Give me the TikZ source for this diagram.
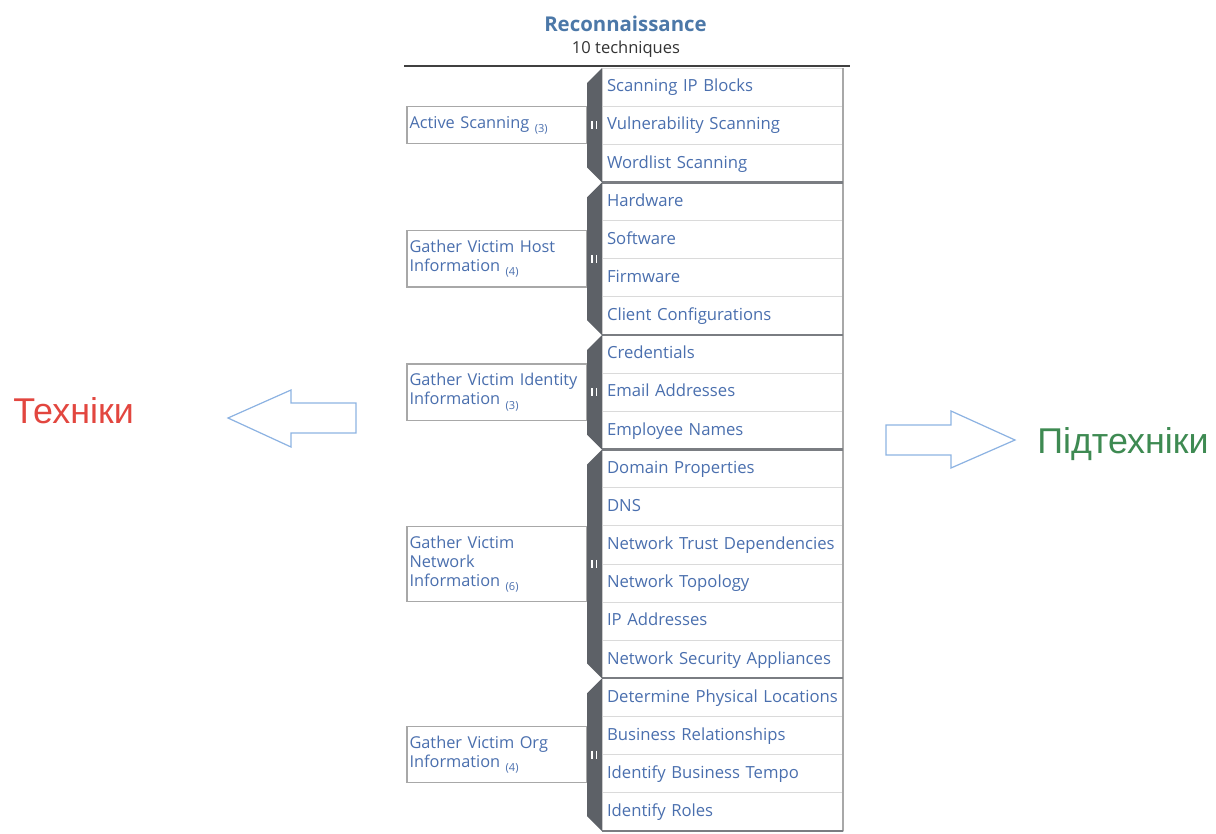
\documentclass[tikz,border=0pt]{standalone}
\usepackage{xcolor}
\usepackage{fontspec}
\setmainfont{Open Sans}
\newfontfamily\slidefont{Liberation Sans}
\usepackage{tikz}
\usetikzlibrary{positioning, calc}

\definecolor{linkblue}{HTML}{4A6FAE}
\definecolor{headblue}{HTML}{4C78A8}
\definecolor{barfill}{HTML}{5D6167}
\definecolor{grpline}{HTML}{7A7D82}
\definecolor{rowline}{HTML}{DADADA}
\definecolor{boxline}{HTML}{A8A8A8}
\definecolor{arrowblue}{HTML}{8DB3E2}
\definecolor{techred}{HTML}{E2463F}
\definecolor{subgreen}{HTML}{3E8A52}

% no hyphenation inside the technique boxes
\hyphenpenalty=10000

% small count after a technique name
\newcommand{\techcount}[1]{\raisebox{-0.5ex}{\fontsize{6.3}{7}\selectfont(#1)}}

\begin{document}
\begin{tikzpicture}[
    node distance=0pt,
    sub/.style={
        rectangle, draw=rowline, line width=0.5pt, outer sep=0pt,
        minimum width=4.82cm, minimum height=0.763cm,
        text width=4.62cm, inner xsep=0.1cm, align=left,
        text height=1.45ex, text depth=0.45ex,
        font=\fontsize{9.5}{10.8}\selectfont, text=linkblue
    },
    tech/.style={
        rectangle, draw=boxline, line width=0.6pt, fill=white, outer sep=0pt,
        text width=3.5cm, inner xsep=0.05cm, inner ysep=0.19cm,
        align=left, anchor=east,
        font=\fontsize{9.3}{10.8}\selectfont, text=linkblue
    },
    bar/.style={fill=barfill},
    grp/.style={grpline, line width=1.2pt},
    grip/.style={white, line width=0.7pt},
    hollow/.style={arrowblue, line width=0.7pt, line join=miter},
    lbl/.style={font=\slidefont\fontsize{20.4}{24}\selectfont, anchor=base west, inner sep=0pt},
]
\useasboundingbox (0,0) rectangle (24.32,-16.68);

% Tactic header
\node[font=\fontsize{11.6}{14}\selectfont\bfseries, text=headblue, anchor=base] (tactic) at (12.51,-0.62) {Reconnaissance};
\node[font=\fontsize{9.4}{11}\selectfont, text=black!80, anchor=base] (count) at (12.52,-1.06) {10 techniques};
\draw[black!75, line width=1pt] (8.08,-1.32) -- (17.0,-1.32);

% Sub-technique column
\node[sub, anchor=north west] (s1) at (12.04,-1.36) {Scanning IP Blocks};
\node[sub, below=of s1] (s2) {Vulnerability Scanning};
\node[sub, below=of s2] (s3) {Wordlist Scanning};
\node[sub, below=of s3] (s4) {Hardware};
\node[sub, below=of s4] (s5) {Software};
\node[sub, below=of s5] (s6) {Firmware};
\node[sub, below=of s6] (s7) {Client Configurations};
\node[sub, below=of s7] (s8) {Credentials};
\node[sub, below=of s8] (s9) {Email Addresses};
\node[sub, below=of s9] (s10) {Employee Names};
\node[sub, below=of s10] (s11) {Domain Properties};
\node[sub, below=of s11] (s12) {DNS};
\node[sub, below=of s12] (s13) {Network Trust Dependencies};
\node[sub, below=of s13] (s14) {Network Topology};
\node[sub, below=of s14] (s15) {IP Addresses};
\node[sub, below=of s15] (s16) {Network Security Appliances};
\node[sub, below=of s16] (s17) {Determine Physical Locations};
\node[sub, below=of s17] (s18) {Business Relationships};
\node[sub, below=of s18] (s19) {Identify Business Tempo};
\node[sub, below=of s19] (s20) {Identify Roles};

% Outer edge and group separators
\draw[boxline, line width=0.8pt] (s1.north east) -- (s20.south east);
\draw[grp] (s3.south west) -- (s3.south east);
\draw[grp] (s7.south west) -- (s7.south east);
\draw[grp] (s10.south west) -- (s10.south east);
\draw[grp] (s16.south west) -- (s16.south east);
\draw[grp] (s20.south west) -- (s20.south east);

% Techniques, centred on their groups
\node[tech] (act) at ($(s1.north west)!0.5!(s3.south west) + (-0.3,0)$) {Active Scanning \techcount{3}};
\node[tech] (host) at ($(s4.north west)!0.5!(s7.south west) + (-0.3,0)$) {Gather Victim Host\\Information \techcount{4}};
\node[tech] (ident) at ($(s8.north west)!0.5!(s10.south west) + (-0.3,0)$) {Gather Victim Identity\\Information \techcount{3}};
\node[tech] (net) at ($(s11.north west)!0.5!(s16.south west) + (-0.3,0)$) {Gather Victim\\Network\\Information \techcount{6}};
\node[tech] (org) at ($(s17.north west)!0.5!(s20.south west) + (-0.3,0)$) {Gather Victim Org\\Information \techcount{4}};

% Dark side bars with chamfered ends
\fill[bar] (s1.north west) -- ++(-0.3,-0.3) -- ($(s3.south west)+(-0.3,0.3)$) -- (s3.south west) -- cycle;
\fill[bar] (s4.north west) -- ++(-0.3,-0.3) -- ($(s7.south west)+(-0.3,0.3)$) -- (s7.south west) -- cycle;
\fill[bar] (s8.north west) -- ++(-0.3,-0.3) -- ($(s10.south west)+(-0.3,0.3)$) -- (s10.south west) -- cycle;
\fill[bar] (s11.north west) -- ++(-0.3,-0.3) -- ($(s16.south west)+(-0.3,0.3)$) -- (s16.south west) -- cycle;
\fill[bar] (s17.north west) -- ++(-0.3,-0.3) -- ($(s20.south west)+(-0.3,0.3)$) -- (s20.south west) -- cycle;

% Grip marks
\draw[grip] ($(act.east)+(0.1,0.08)$) -- ++(0,-0.16) ++(0.09,0.16) -- ++(0,-0.16);
\draw[grip] ($(host.east)+(0.1,0.08)$) -- ++(0,-0.16) ++(0.09,0.16) -- ++(0,-0.16);
\draw[grip] ($(ident.east)+(0.1,0.08)$) -- ++(0,-0.16) ++(0.09,0.16) -- ++(0,-0.16);
\draw[grip] ($(net.east)+(0.1,0.08)$) -- ++(0,-0.16) ++(0.09,0.16) -- ++(0,-0.16);
\draw[grip] ($(org.east)+(0.1,0.08)$) -- ++(0,-0.16) ++(0.09,0.16) -- ++(0,-0.16);

% Side labels with outline arrows
\node[lbl, text=techred] (techl) at (0.26,-8.46) {Техніки};
\node[lbl, text=subgreen] (subl) at (20.74,-9.06) {Підтехніки};

\draw[hollow] (4.56,-8.36) -- (5.82,-7.80) -- (5.82,-8.06) -- (7.12,-8.06)
    -- (7.12,-8.66) -- (5.82,-8.66) -- (5.82,-8.94) -- cycle;
\draw[hollow] (17.72,-8.50) -- (19.02,-8.50) -- (19.02,-8.22) -- (20.30,-8.80)
    -- (19.02,-9.36) -- (19.02,-9.10) -- (17.72,-9.10) -- cycle;

\end{tikzpicture}
\end{document}
